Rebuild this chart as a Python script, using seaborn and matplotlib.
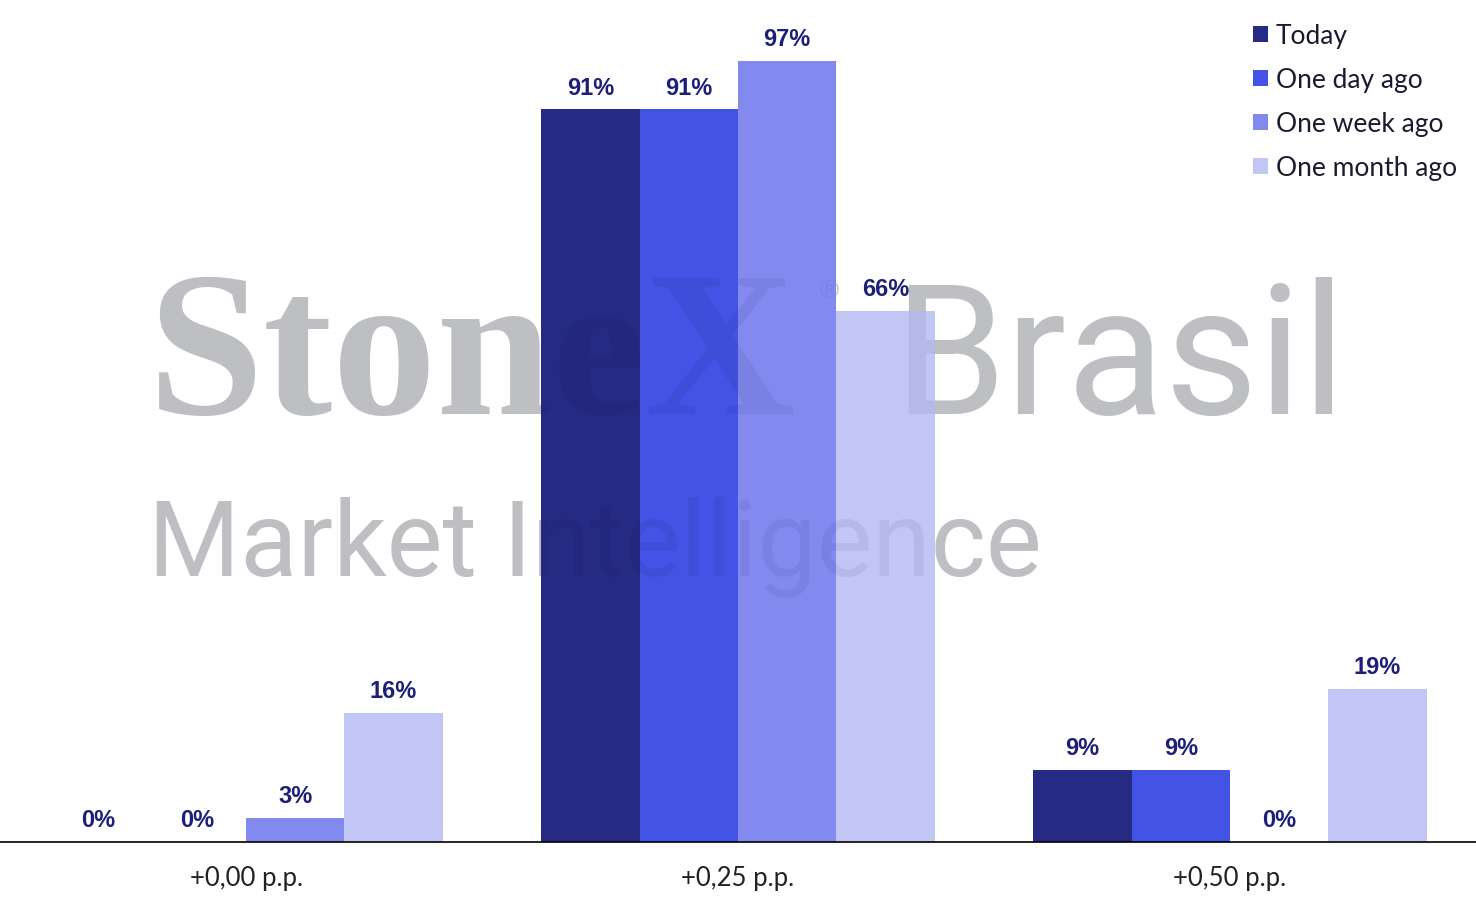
import pandas as pd
import matplotlib.pyplot as plt
import seaborn as sns

# Data
categories = ["+0,00 p.p.", "+0,25 p.p.", "+0,50 p.p."]
series = ["Today", "One day ago", "One week ago", "One month ago"]
today = [0, 91, 9]
one_day = [0, 91, 9]
one_week = [3, 97, 0]
one_month = [16, 66, 19]
colors = ["#252a83", "#4353e6", "#828af0", "#c2c6f5"]

rows = []
for name, vals in zip(series, [today, one_day, one_week, one_month]):
    for cat, v in zip(categories, vals):
        rows.append({"category": cat, "series": name, "value": v})
df = pd.DataFrame(rows)

sns.set_style("white")
plt.rcParams["font.family"] = ["Lato", "DejaVu Sans"]

fig = plt.figure(figsize=(14.76, 9.1), dpi=100)
ax = fig.add_axes([0, 68 / 910, 1, 842 / 910])

sns.barplot(data=df, x="category", y="value", hue="series", hue_order=series,
            palette=colors, width=0.8, saturation=1, linewidth=0,
            edgecolor="none", ax=ax, zorder=2)

for cont in ax.containers:
    ax.bar_label(cont, fmt="%.0f%%", padding=7, color="#1b1f7a",
                 fontsize=17, fontweight="bold", family="Liberation Sans")

ax.set_xlim(-0.5, 2.5)
ax.set_ylim(0, 104.6)
ax.set_xlabel("")
ax.set_ylabel("")
ax.set_yticks([])
ax.tick_params(axis="x", length=0, labelsize=18.5, pad=17, labelcolor="#222222")
for s in ["top", "left", "right"]:
    ax.spines[s].set_visible(False)
ax.spines["bottom"].set_color("black")
ax.spines["bottom"].set_linewidth(1.2)

# watermark: gray underneath, faint dark copy on top of the bars
def watermark(color, alpha, z):
    kw = dict(color=color, alpha=alpha, zorder=z)
    fig.text(0.10, 0.545, "StoneX", family="Liberation Serif", fontweight="bold",
             fontsize=150, **kw)
    fig.text(0.553, 0.672, "®", family="DejaVu Sans", fontsize=18, **kw)
    fig.text(0.605, 0.545, "Brasil", family="Roboto", fontsize=130, **kw)
    fig.text(0.10, 0.367, "Market Intelligence", family="Roboto", fontsize=76, **kw)

watermark("#cccdce", 1.0, 0)
watermark("#10143a", 0.07, 5)
ax.set_zorder(1)
ax.patch.set_alpha(0)

leg = ax.legend(loc="upper right", frameon=False, fontsize=19, handlelength=0.55,
                handleheight=0.55, handletextpad=0.3, labelspacing=0.72,
                bbox_to_anchor=(1.003, 1.0))
for t in leg.get_texts():
    t.set_color("#1a1a2e")

fig.savefig("out.png", dpi=100, facecolor="white")
